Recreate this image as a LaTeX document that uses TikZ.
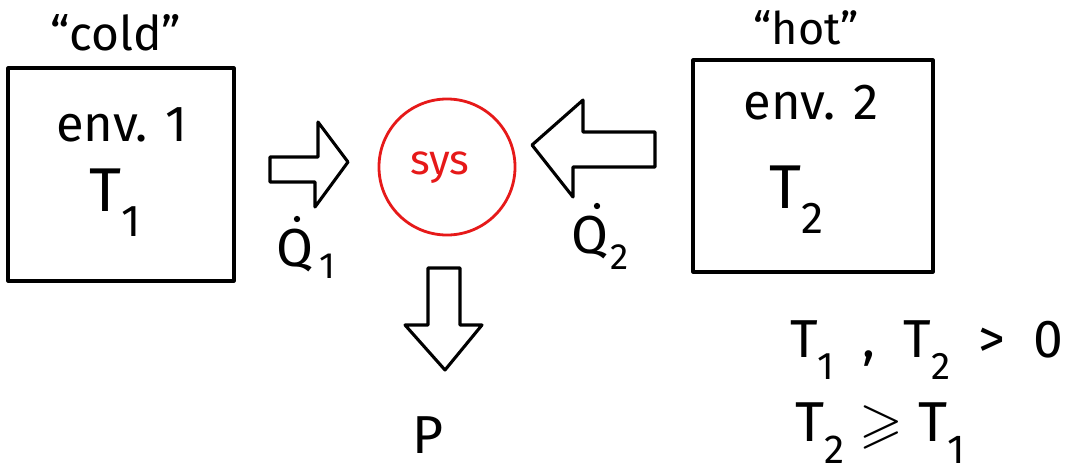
\documentclass[tikz,border=0pt]{standalone}
\usepackage{amssymb}
\usepackage{fontspec}
\setmainfont{Fira Sans}
\definecolor{sysred}{RGB}{230,25,25}
\newcommand{\fs}[1]{\fontsize{#1}{#1}\selectfont}
\newcommand{\mysub}[1]{\raisebox{-0.4em}{\scalebox{0.72}{#1}}}
\begin{document}
\begin{tikzpicture}[x=0.025cm,y=-0.025cm,
  ink/.style={line width=2.2pt,line join=round,line cap=round},
  envbox/.style={draw,ink},
  heatarrow/.style={draw,ink},
  dotmark/.style={fill=black,circle,inner sep=0pt,minimum size=4.5pt},
  lbl/.style={inner sep=0pt,anchor=center}]
\useasboundingbox (0,0) rectangle (1082,474);
% boxes
\draw[envbox] (8,68) rectangle (234,281);
\draw[envbox] (693,60) rectangle (933,272);
% labels
\node[lbl] (cold) at (116,33) {\fs{34}``cold''};
\node[lbl] (hot) at (806,28) {\fs{32}``hot''};
\node[lbl] (env1) at (122,125) {\fs{36}env. 1};
\node[lbl] (env2) at (811,103) {\fs{36}env. 2};
\node[lbl] (T1) at (115,203) {\fs{44}T\mysub{1}};
\node[lbl] (T2) at (797,200) {\fs{44}T\mysub{2}};
% system
\node[draw=sysred,line width=2pt,circle,minimum size=3.4cm,inner sep=0pt] (sys) at (447,167) {};
\node[lbl,text=sysred] (syst) at (440,168) {\fs{30}sys};
% arrows
\draw[heatarrow] (270,157) -- (318,157) -- (318,122) -- (348,162) -- (315,207) -- (315,182) -- (270,182) -- cycle;
\draw[heatarrow] (655,132) -- (583,132) -- (583,100) -- (532,145) -- (573,197) -- (573,167) -- (655,167) -- cycle;
\draw[heatarrow] (428,268) -- (460,268) -- (460,325) -- (482,325) -- (445,370) -- (405,325) -- (428,325) -- cycle;
% heat flow labels
\node[lbl] (Q1) at (295,251) {\fs{38}Q};
\node[dotmark] (Q1dot) at (297,219) {};
\node[lbl] (Q1sub) at (327,266) {\fs{26}1};
\node[lbl] (Q2) at (590,238) {\fs{38}Q};
\node[dotmark] (Q2dot) at (597,206) {};
\node[lbl] (Q2sub) at (620,257) {\fs{26}2};
\node[lbl] (P) at (428,435) {\fs{38}P};
% conditions
\node[lbl] (cond1) at (927,350) {\fs{38}T\mysub{1}\ \ ,\ \ T\mysub{2}\ \ >\ \ 0};
\node[lbl] (cond2) at (880,433) {\fs{40}T\mysub{2} $\geqslant$ T\mysub{1}};
\end{tikzpicture}
\end{document}
